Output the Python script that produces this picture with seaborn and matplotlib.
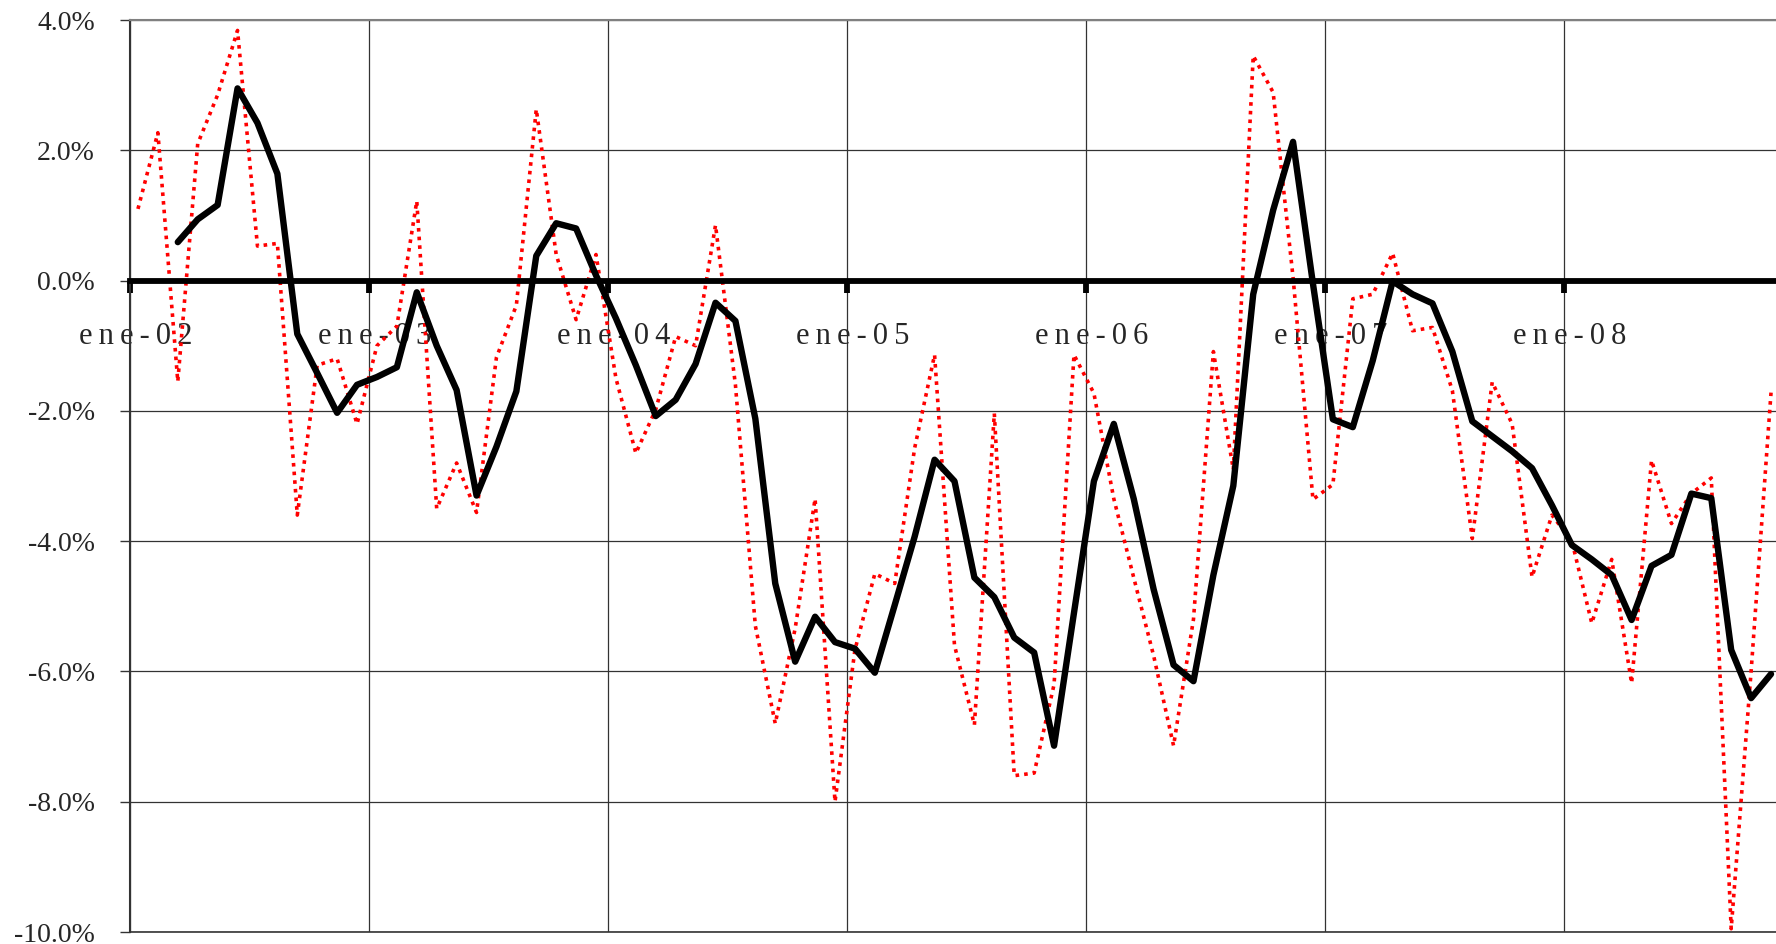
import numpy as np
import pandas as pd
import matplotlib
matplotlib.use("Agg")
import matplotlib.pyplot as plt
import matplotlib.transforms as mtransforms
from matplotlib.ticker import MultipleLocator, FuncFormatter
import seaborn as sns

# variación mensual (%) ene-02 .. nov-08
mensual = [1.10, 2.27, -1.55, 2.10, 2.85, 3.84, 0.53, 0.57, -3.60, -1.30,
           -1.20, -2.20, -1.00, -0.70, 1.22, -3.50, -2.80, -3.56, -1.18, -0.38,
           2.63, 0.40, -0.60, 0.40, -1.50, -2.65, -1.98, -0.86, -1.00, 0.85,
           -1.60, -5.30, -6.80, -5.34, -3.35, -8.00, -5.67, -4.50, -4.65, -2.57,
           -1.14, -5.60, -6.82, -2.04, -7.60, -7.56, -6.20, -1.14, -1.73, -3.35,
           -4.56, -5.76, -7.14, -5.20, -1.09, -2.90, 3.45, 2.89, 0.05, -3.36,
           -3.13, -0.28, -0.21, 0.42, -0.77, -0.72, -1.69, -3.96, -1.56, -2.20,
           -4.55, -3.60, -4.00, -5.26, -4.28, -6.18, -2.76, -3.73, -3.27, -3.03,
           -9.95, -6.00, -1.72]

# media móvil trimestral (%)
media = [np.nan, np.nan, 0.59, 0.94, 1.16, 2.95, 2.42, 1.64, -0.82, -1.42,
         -2.03, -1.60, -1.48, -1.33, -0.18, -1.00, -1.68, -3.30, -2.55, -1.70,
         0.38, 0.88, 0.80, 0.08, -0.58, -1.30, -2.08, -1.83, -1.28, -0.34,
         -0.62, -2.12, -4.65, -5.85, -5.16, -5.55, -5.65, -6.02, -4.98, -3.93,
         -2.75, -3.08, -4.56, -4.86, -5.48, -5.71, -7.14, -5.10, -3.08, -2.20,
         -3.35, -4.74, -5.90, -6.15, -4.52, -3.15, -0.21, 1.08, 2.13, -0.05,
         -2.13, -2.25, -1.23, -0.01, -0.21, -0.35, -1.09, -2.16, -2.39, -2.62,
         -2.88, -3.45, -4.06, -4.28, -4.52, -5.21, -4.38, -4.21, -3.27, -3.34,
         -5.67, -6.41, -6.04]

anios = ["ene-02", "ene-03", "ene-04", "ene-05", "ene-06", "ene-07", "ene-08"]

df = pd.DataFrame({"mes": np.arange(len(mensual)), "mensual": mensual, "media": media})

sns.set_style("white")
plt.rcParams["font.family"] = ["Liberation Serif", "DejaVu Serif"]
plt.rcParams["axes.unicode_minus"] = False

fig = plt.figure(figsize=(17.76, 9.44), dpi=100)
ax = fig.add_axes([130 / 1776, 12 / 944, 1646 / 1776, 912 / 944])

sns.lineplot(data=df, x="mes", y="mensual", ax=ax, color="#ff0000",
             linewidth=2.6, linestyle=(0, (1, 1.4)), dash_capstyle="butt")
sns.lineplot(data=df, x="mes", y="media", ax=ax, color="black",
             linewidth=4.6, zorder=3)

ax.set_xlim(-0.4, 82.25)
ax.set_ylim(-10, 4)
ax.yaxis.set_major_locator(MultipleLocator(2))
ax.yaxis.set_major_formatter(FuncFormatter(lambda v, p: f"{v:.1f}%"))
ax.set_xticks(np.arange(len(anios)) * 12 - 0.4)
ax.set_xticklabels(["\u2009".join(a) for a in anios])
ax.set_xlabel("")
ax.set_ylabel("")

ax.grid(True, color="#333333", linewidth=0.9)
ax.spines["bottom"].set_position(("data", 0))
ax.spines["bottom"].set_linewidth(4.2)
ax.spines["bottom"].set_color("black")
ax.spines["right"].set_visible(False)
ax.spines["top"].set_color("#808080")
ax.spines["top"].set_linewidth(1.5)
ax.spines["left"].set_color("#333333")
ax.spines["left"].set_linewidth(1.5)
ax.axhline(-10, color="#333333", linewidth=1.2, clip_on=False)

ax.tick_params(axis="y", direction="out", length=7.2, width=1, color="#333333",
               pad=18, labelsize=20, left=True)
ax.tick_params(axis="x", direction="out", length=8.6, width=4.2, color="black",
               pad=21, labelsize=22, bottom=True)

shift = mtransforms.ScaledTranslation(6 / 100, 0, fig.dpi_scale_trans)
for lab in ax.get_xticklabels():
    lab.set_transform(lab.get_transform() + shift)

fig.savefig("out.png", dpi=100)
